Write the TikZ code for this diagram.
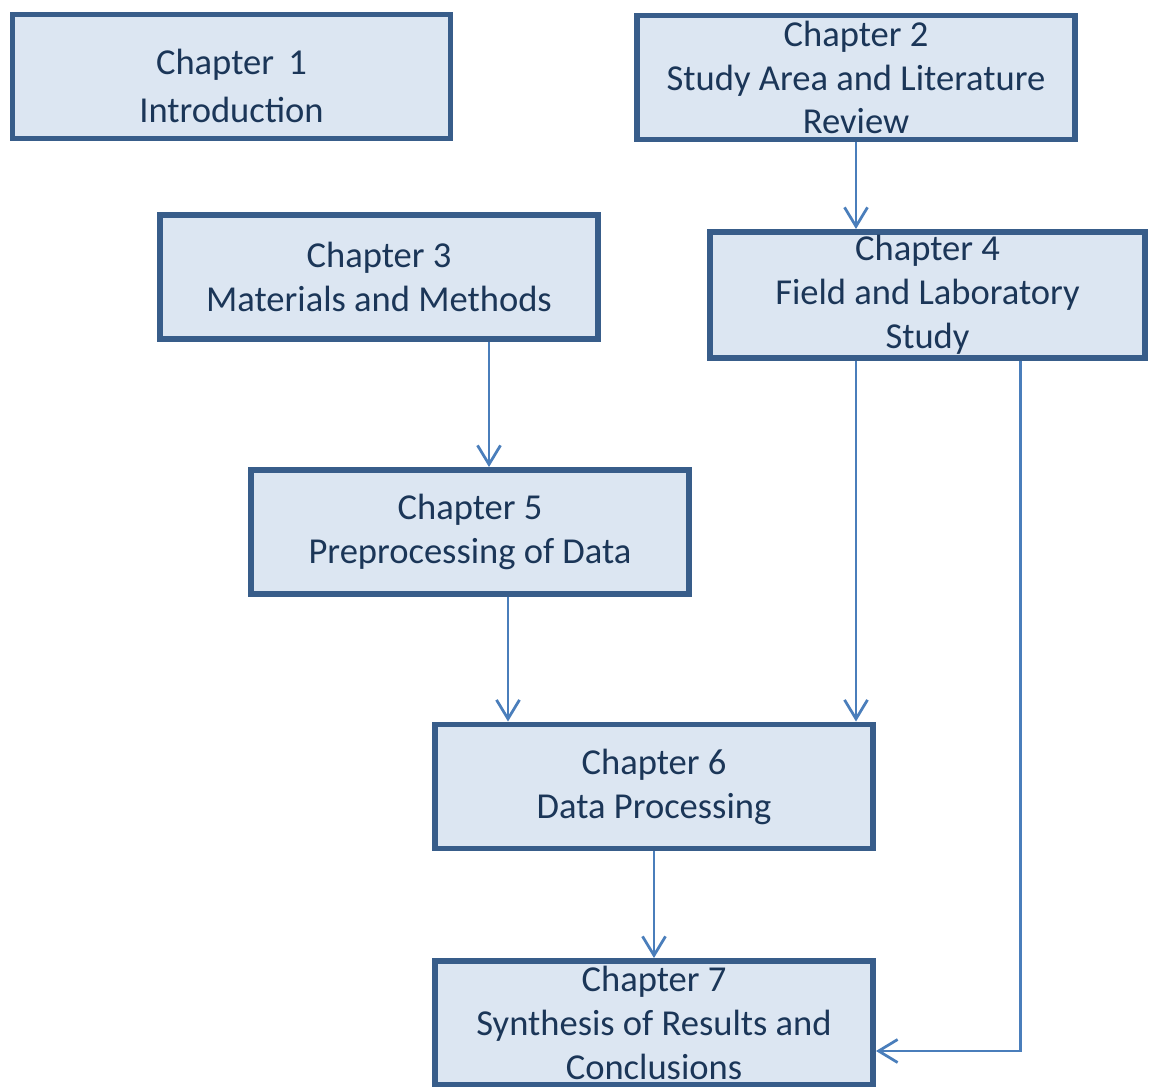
\documentclass[tikz,border=0pt]{standalone}
\usepackage{fontspec}
\setmainfont{Carlito}
\usetikzlibrary{arrows.meta}
\definecolor{boxfill}{HTML}{DCE6F2}
\definecolor{boxline}{HTML}{385D8A}
\definecolor{arrline}{HTML}{4A7EBB}
\definecolor{chaptxt}{HTML}{1B3658}

\begin{document}
\begin{tikzpicture}[x=0.02cm,y=-0.02cm,
   chapbox/.style={draw=boxline,fill=boxfill,line width=0.11cm,minimum width=8.77cm,minimum height=2.49cm,inner sep=0pt},
   chaptext/.style={align=center,text=chaptxt,font=\fontsize{20.8}{25}\selectfont,inner sep=0pt},
   arr/.style={draw=arrline,line width=0.055cm,-{Straight Barb[length=0.38cm,width=0.46cm]}}]
   \useasboundingbox (0,0) rectangle (1149,1087);
   % boxes
   \node[chapbox] (ch1) at (231.5,76.5) {};
   \node[chapbox] (ch2) at (856,77.5) {};
   \node[chapbox] (ch3) at (379,277) {};
   \node[chapbox,minimum width=8.71cm,minimum height=2.53cm] (ch4) at (927.5,295) {};
   \node[chapbox] (ch5) at (470,532) {};
   \node[chapbox] (ch6) at (654,786.5) {};
   \node[chapbox] (ch7) at (654,1023) {};
   % texts
   \node[chaptext] (ch1t) at ([yshift=-0.18cm]ch1) {Chapter\, 1\\[0.08cm]Introduction};
   \node[chaptext] (ch2t) at (ch2) {Chapter 2\\Study Area and Literature\\Review};
   \node[chaptext] (ch3t) at (ch3) {Chapter 3\\Materials and Methods};
   \node[chaptext] (ch4t) at (ch4) {Chapter 4\\Field and Laboratory\\Study};
   \node[chaptext] (ch5t) at (ch5) {Chapter 5\\Preprocessing of Data};
   \node[chaptext] (ch6t) at (ch6) {Chapter 6\\Data Processing};
   \node[chaptext] (ch7t) at (ch7) {Chapter 7\\Synthesis of Results and\\Conclusions};
   % arrows
   \draw[arr] (ch2.south) -- (ch2.south |- ch4.north);
   \draw[arr] ([xshift=0.38cm]ch5.north |- ch3.south) -- ([xshift=0.38cm]ch5.north);
   \draw[arr] ([xshift=0.76cm]ch5.south) -- ([xshift=0.76cm]ch5.south |- ch6.north);
   \draw[arr] (ch2.south |- ch4.south) -- (ch2.south |- ch6.north);
   \draw[arr] (ch6.south) -- (ch7.north);
   \draw[arr] ([xshift=1.86cm]ch4.south) |- ([yshift=-0.56cm]ch7.east);
\end{tikzpicture}
\end{document}
